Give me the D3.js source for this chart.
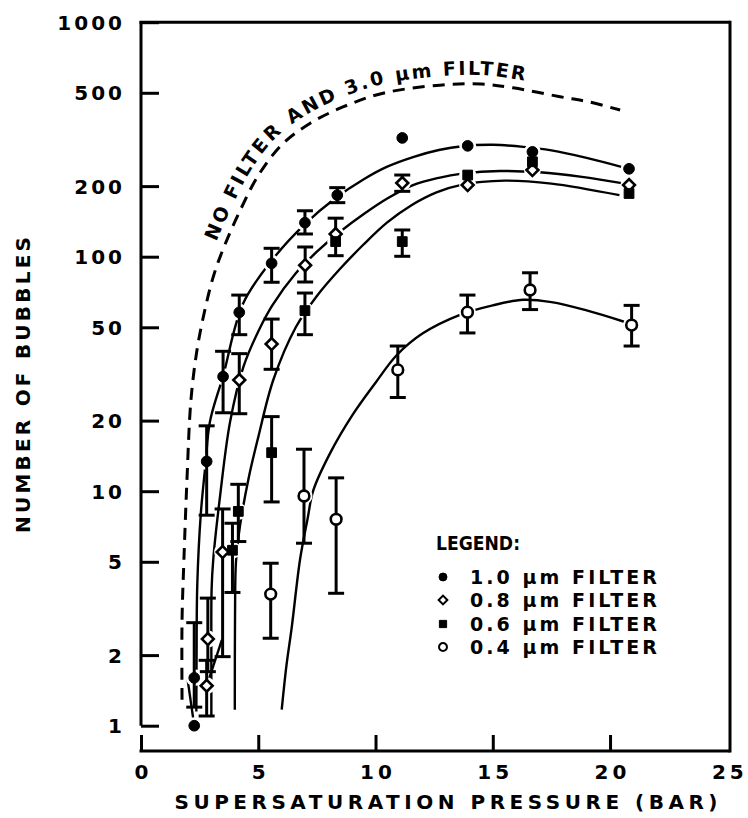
<!DOCTYPE html>
<html><head><meta charset="utf-8">
<script src="https://cdn.jsdelivr.net/npm/d3@7"></script>
<style>
html,body{margin:0;padding:0;background:#fff;}
svg{display:block;}
text{font-family:"DejaVu Sans",sans-serif;font-weight:bold;fill:#000;}
</style></head><body>
<svg id="chart" width="748" height="818"></svg>
<script>
// ---------- data ----------
const xTicks = [0, 5, 10, 15, 20, 25];
const yTicks = [1, 2, 5, 10, 20, 50, 100, 200, 500, 1000];
const xTitle = "SUPERSATURATION PRESSURE (BAR)";
const yTitle = "NUMBER OF BUBBLES";
const curveLabel = "NO FILTER AND 3.0 \u00B5m FILTER";
const legendTitle = "LEGEND:";
const seriesNames = ["1.0 \u00B5m FILTER", "0.8 \u00B5m FILTER", "0.6 \u00B5m FILTER", "0.4 \u00B5m FILTER"];

// points: [pressure, bubbles, errLow, errHigh]
const filter10 = [[2.27,1.6,1.2,2.75],[2.27,1.0,null,null],[2.8,13.4,7.9,19.0],[3.5,30.8,21.6,39.5],[4.19,57.9,46.5,68.6],[5.57,93.7,77.8,108.6],[6.99,139.6,125,157],[8.37,183,170,197],[11.14,321,null,null],[13.93,297,null,null],[16.69,280,null,null],[20.81,237,null,null]];
const filter08 = [[2.8,1.48,1.1,1.9],[2.85,2.34,1.7,3.5],[3.48,5.5,1.97,8.4],[4.19,29.8,21.4,38.6],[5.57,42.4,33.1,54.2],[7.0,92,78,110],[8.3,125,101,146],[11.14,206,190,223],[13.93,202,null,null],[16.69,234,null,null],[20.81,202,null,null]];
const filter06 = [[3.9,5.6,3.7,7.3],[4.15,8.2,6.1,10.7],[5.57,14.6,9.0,20.8],[6.99,58.9,46.5,70],[8.3,116,null,null],[11.14,116,100.4,130],[13.93,223,null,null],[16.69,254,null,null],[20.81,186,null,null]];
const filter04 = [[5.53,3.64,2.36,4.93],[6.95,9.54,6.0,15.1],[8.32,7.59,3.67,11.4],[10.95,32.9,25.1,41.6],[13.92,58,47.3,68.6],[16.59,72.1,59.5,85.4],[20.92,51.1,41.6,62.0]];

// fitted curves: [pressure, bubbles]
const fit10 = [[2.36,1.15],[2.37,2],[2.4,4],[2.55,8],[2.75,13],[2.94,19.8],[3.5,31],[4.35,63],[5.6,97],[7,138],[8.3,178],[9.5,214],[10.5,242],[11.6,266],[12.7,285],[13.7,296],[15,300],[16.3,294],[17.5,284],[19,264],[20.6,240]];
const fit08 = [[3.0,1.1],[3.0,2],[3.01,3.8],[3.08,5.1],[3.37,9.5],[3.8,19.8],[4.37,34],[5.0,48],[5.6,62],[6.6,85],[7.5,105],[8.5,128],[9.5,152],[10.5,177],[11.6,202],[12.7,217],[13.7,226],[15.3,232],[17,229],[18.8,219],[20.5,206]];
const fit06 = [[4.0,1.17],[4.01,3],[4.05,5],[4.22,7.1],[4.6,11.5],[5.0,17],[5.64,29.8],[6.6,50],[7.5,68],[8.5,89],[9.5,113],[10.5,140],[11.5,165],[12.6,188],[13.7,203],[15.5,211],[17.5,205],[20.4,183]];
const fit04 = [[6.0,1.17],[6.2,1.8],[6.43,2.64],[6.78,5.1],[7.1,7.6],[7.35,10.1],[8.06,14.5],[9.0,21],[10.0,29],[10.9,38],[12,47],[13.6,56.5],[15,62],[16.3,65.5],[17.5,64],[19,59],[20.6,52.8]];
const fitNoFilter = [[1.75,1.29],[1.75,2.82],[1.83,5.1],[1.96,11.2],[2.13,24.5],[2.39,40.1],[2.73,59.7],[3.11,83.9],[3.58,112.6],[4.26,160],[5.0,222],[6.0,300],[7.2,370],[8.61,435],[10.32,498],[12.75,539],[14.5,545],[15.86,525],[17.87,481],[19.15,456],[20.43,422]];
const connectors = [[[1.97,1.62],[2.27,1.0]],[[2.8,1.48],[3.45,2.32]]];

// ---------- drawing ----------
const svg = d3.select("#chart");
const x = d3.scaleLinear().domain([0, 25]).range([141, 727.3]);
const y = d3.scaleLog().domain([1, 1000]).range([725.7, 22.2]);
const xAxisY = 751, rightX = 730;
const FS = 19, FT = 20;

const line = d3.line().x(d => x(d[0])).y(d => y(d[1])).curve(d3.curveCatmullRom.alpha(0.5));
const straight = d3.line().x(d => x(d[0])).y(d => y(d[1]));

// frame
const frame = svg.append("g").attr("stroke", "#000").attr("stroke-width", 3).attr("fill", "none");
frame.append("line").attr("x1", x(0)).attr("x2", x(0)).attr("y1", y(1000) - 1).attr("y2", y(1));
frame.append("line").attr("x1", x(0) - 1.5).attr("x2", rightX).attr("y1", y(1000)).attr("y2", y(1000));
frame.append("line").attr("x1", rightX).attr("x2", rightX).attr("y1", y(1000) - 1.5).attr("y2", xAxisY + 1.5);
frame.append("line").attr("x1", x(0) - 1.5).attr("x2", rightX).attr("y1", xAxisY).attr("y2", xAxisY);

// axes
const yAxis = d3.axisLeft(y).tickValues(yTicks).tickFormat(d3.format("d")).tickSize(-18).tickPadding(19);
const gy = svg.append("g").attr("transform", `translate(${x(0)},0)`).call(yAxis);
gy.select(".domain").remove();
gy.selectAll(".tick line").attr("stroke", "#000").attr("stroke-width", 3);
gy.selectAll(".tick text").attr("font-family", "DejaVu Sans").attr("font-weight", "bold")
  .attr("font-size", FT).attr("letter-spacing", 3).attr("dy", "0.36em").attr("dx", 3);

const xAxis = d3.axisBottom(x).tickValues(xTicks).tickSize(-16).tickPadding(14);
const gx = svg.append("g").attr("transform", `translate(0,${xAxisY})`).call(xAxis);
gx.select(".domain").remove();
gx.selectAll(".tick line").attr("stroke", "#000").attr("stroke-width", 3);
gx.selectAll(".tick line").filter(d => d === 25).remove();
gx.selectAll(".tick text").attr("font-family", "DejaVu Sans").attr("font-weight", "bold")
  .attr("font-size", FT).attr("letter-spacing", 4).attr("dx", 2);

// titles
svg.append("text").attr("x", 446).attr("y", 809).attr("text-anchor", "middle")
  .attr("font-size", FT).attr("textLength", 543).attr("lengthAdjust", "spacing").text(xTitle);
svg.append("text").attr("transform", "translate(30,385) rotate(-90)").attr("text-anchor", "middle")
  .attr("font-size", FT).attr("textLength", 296).attr("lengthAdjust", "spacing").text(yTitle);

// curves
const curves = svg.append("g").attr("fill", "none").attr("stroke", "#000").attr("stroke-width", 2.4);
[fit10, fit08, fit06, fit04].forEach(c => curves.append("path").attr("d", line(c)));
connectors.forEach(c => curves.append("path").attr("d", straight(c)));
const dashPath = curves.append("path").attr("id", "dashPath").attr("d", line(fitNoFilter))
  .attr("stroke-width", 3).attr("stroke-dasharray", "12,8");

// curve label along the dashed curve
const pNode = dashPath.node();
const total = pNode.getTotalLength();
const targetY = y(112);
let lo = 0, hi = total * 0.5;
for (let i = 0; i < 40; i++) { const m = (lo + hi) / 2; if (pNode.getPointAtLength(m).y > targetY) lo = m; else hi = m; }
const lbl = svg.append("text").attr("font-size", FS).attr("dy", -9);
const tp = lbl.append("textPath").attr("href", "#dashPath").attr("startOffset", lo).text(curveLabel);
const natural = tp.node().getComputedTextLength();
const wanted = 372;
tp.attr("letter-spacing", Math.max(0, (wanted - natural) / (curveLabel.length - 1)));

// markers
const series = [
  {data: filter10, type: "circle", fill: "#000"},
  {data: filter08, type: "diamond", fill: "#fff"},
  {data: filter06, type: "square", fill: "#000"},
  {data: filter04, type: "circle", fill: "#fff"}
];
function markerPath(type, scale) {
  if (type === "circle") return d3.symbol(d3.symbolCircle, 90 * scale)();
  if (type === "square") return d3.symbol(d3.symbolSquare, 95 * scale)();
  return d3.symbol(d3.symbolSquare, 70 * scale)();
}
function markerTransform(type, px, py) {
  return `translate(${px},${py})` + (type === "diamond" ? " rotate(45)" : "");
}

// halos (gaps in the curves around markers)
const halos = svg.append("g");
series.forEach(s => s.data.forEach(d => {
  halos.append("circle").attr("cx", x(d[0])).attr("cy", y(d[1])).attr("r", 8.5).attr("fill", "#fff");
}));

// error bars
const eb = svg.append("g").attr("stroke", "#000").attr("stroke-width", 3);
series.forEach(s => s.data.filter(d => d[2] != null).forEach(d => {
  const cx = x(d[0]);
  eb.append("line").attr("x1", cx).attr("x2", cx).attr("y1", y(d[2])).attr("y2", y(d[3]));
  eb.append("line").attr("x1", cx - 8).attr("x2", cx + 8).attr("y1", y(d[2])).attr("y2", y(d[2]));
  eb.append("line").attr("x1", cx - 8).attr("x2", cx + 8).attr("y1", y(d[3])).attr("y2", y(d[3]));
}));

const mk = svg.append("g");
series.forEach(s => s.data.forEach(d => {
  mk.append("path").attr("d", markerPath(s.type, 1))
    .attr("transform", markerTransform(s.type, x(d[0]), y(d[1])))
    .attr("fill", s.fill).attr("stroke", "#000").attr("stroke-width", s.fill === "#fff" ? 2.6 : 1);
}));

// legend
const lg = svg.append("g");
lg.append("text").attr("x", 436).attr("y", 550).attr("font-size", FS)
  .attr("textLength", 84).attr("lengthAdjust", "spacingAndGlyphs").text(legendTitle);
const legendYs = [577, 600, 624, 647];
series.forEach((s, i) => {
  lg.append("path").attr("d", markerPath(s.type, 0.55))
    .attr("transform", markerTransform(s.type, 443, legendYs[i]))
    .attr("fill", s.fill).attr("stroke", "#000").attr("stroke-width", s.fill === "#fff" ? 2 : 1);
  lg.append("text").attr("x", 470).attr("y", legendYs[i] + 7).attr("font-size", FS)
    .attr("textLength", 187).attr("lengthAdjust", "spacing").text(seriesNames[i]);
});
</script>
</body></html>
